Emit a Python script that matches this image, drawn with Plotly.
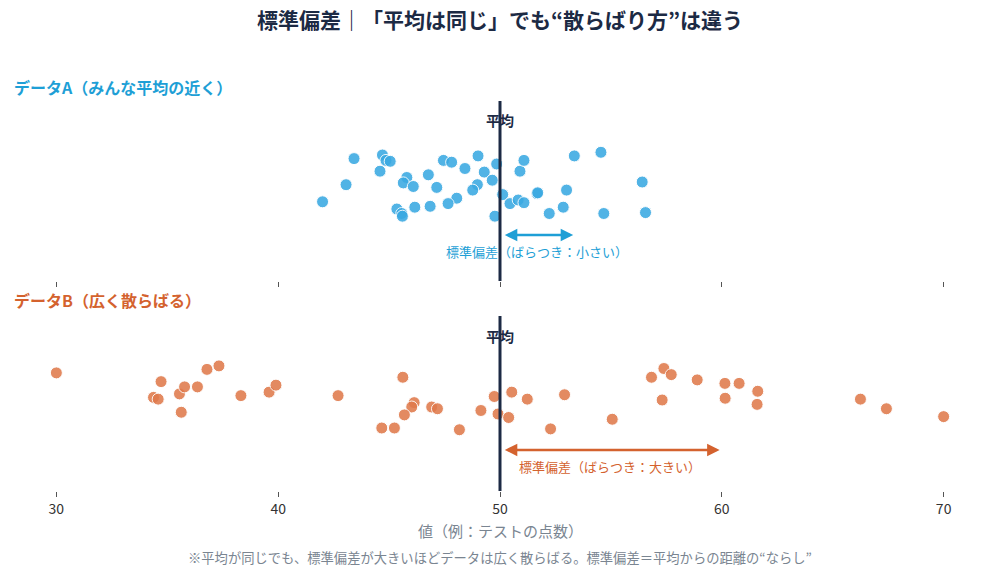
import plotly.graph_objects as go

# ---------------- data ----------------
a_values = [43.42, 44.70, 44.86, 45.05, 44.59, 43.06, 42.00, 45.80, 45.64, 46.09,
            46.77, 47.15, 47.45, 47.82, 48.42, 49.01, 49.29, 49.85, 49.65, 48.98,
            48.77, 48.05, 47.66, 46.85, 46.16, 45.35, 45.57, 45.60, 49.77, 50.12,
            50.45, 50.82, 51.08, 50.90, 51.08, 51.67, 51.70, 52.22, 52.85, 53.00,
            53.35, 54.55, 54.68, 56.41, 56.56]
a_jitter = [0.36, 0.40, 0.34, 0.33, 0.22, 0.07, -0.12, 0.15, 0.09, 0.05,
            0.18, 0.04, 0.34, 0.32, 0.25, 0.39, 0.21, 0.30, 0.12, 0.07,
            0.01, -0.08, -0.14, -0.17, -0.18, -0.20, -0.25, -0.28, -0.28, -0.04,
            -0.14, -0.10, -0.13, 0.22, 0.34, -0.03, -0.02, -0.25, -0.18, 0.01,
            0.39, 0.43, -0.25, 0.10, -0.24]

b_values = [30.00, 34.72, 34.38, 34.59, 35.55, 35.78, 36.36, 36.79, 37.33, 35.63,
            38.32, 39.59, 39.90, 42.70, 45.62, 46.13, 46.02, 45.69, 46.92, 47.18,
            44.67, 45.24, 48.17, 49.14, 49.74, 49.91, 50.39, 50.53, 51.23, 52.28,
            52.91, 55.06, 56.83, 57.39, 57.72, 57.31, 58.89, 60.14, 60.78, 60.15,
            61.62, 61.59, 66.25, 67.42, 70.00]
b_jitter = [0.35, 0.25, 0.07, 0.05, 0.11, 0.19, 0.19, 0.39, 0.43, -0.10,
            0.09, 0.13, 0.21, 0.09, 0.30, 0.01, -0.04, -0.13, -0.04, -0.06,
            -0.28, -0.28, -0.30, -0.08, 0.08, -0.12, -0.16, 0.13, 0.05, -0.29,
            0.10, -0.18, 0.30, 0.40, 0.33, 0.04, 0.27, 0.23, 0.23, 0.06,
            0.14, -0.01, 0.05, -0.06, -0.15]

mean_value = 50
sd_a = 3.3
sd_b = 9.9
tick_values = [30, 40, 50, 60, 70]

title_text = "標準偏差｜「平均は同じ」でも“散らばり方”は違う"
label_a = "データA（みんな平均の近く）"
label_b = "データB（広く散らばる）"
sd_label_a = "標準偏差（ばらつき：小さい）"
sd_label_b = "標準偏差（ばらつき：大きい）"
mean_label = "平均"
x_title = "値（例：テストの点数）"
footnote = "※平均が同じでも、標準偏差が大きいほどデータは広く散らばる。標準偏差＝平均からの距離の“ならし”"

# ---------------- style ----------------
FONT = "Noto Sans CJK JP"
BLUE = "#3AA9E2"
BLUE_TXT = "#1E9FD6"
ORANGE = "#E07A4C"
ORANGE_TXT = "#D4622E"
NAVY = "#1C2A44"
GRAY = "#7A8591"

fig = go.Figure()

fig.add_trace(go.Scatter(
    x=a_values, y=a_jitter, mode="markers", xaxis="x", yaxis="y",
    marker=dict(size=12, color=BLUE, opacity=0.88, line=dict(color="white", width=1)),
    showlegend=False, hoverinfo="x"))
fig.add_trace(go.Scatter(
    x=b_values, y=b_jitter, mode="markers", xaxis="x2", yaxis="y2",
    marker=dict(size=12, color=ORANGE, opacity=0.88, line=dict(color="white", width=1)),
    showlegend=False, hoverinfo="x"))

# mean lines
for xr, yr in (("x", "y"), ("x2", "y2")):
    fig.add_shape(type="line", xref=xr, yref=yr + " domain", x0=mean_value, x1=mean_value,
                  y0=0, y1=1, line=dict(color=NAVY, width=3), layer="above")

annotations = [
    dict(text=f"<b>{title_text}</b>", x=0.5, y=1 - 19 / 575, xref="paper", yref="paper",
         showarrow=False, font=dict(size=21, color=NAVY, family=FONT), xanchor="center", yanchor="middle"),
    dict(text=f"<b>{label_a}</b>", x=0, y=1 - 87 / 575, xref="paper", yref="paper",
         showarrow=False, font=dict(size=16, color=BLUE_TXT, family=FONT), xanchor="left", yanchor="middle"),
    dict(text=f"<b>{label_b}</b>", x=0, y=1 - 300 / 575, xref="paper", yref="paper",
         showarrow=False, font=dict(size=16, color=ORANGE_TXT, family=FONT), xanchor="left", yanchor="middle"),
    dict(text=f"<b>{mean_label}</b>", x=mean_value, y=0.79, xref="x", yref="y",
         showarrow=False, font=dict(size=14, color=NAVY, family=FONT)),
    dict(text=f"<b>{mean_label}</b>", x=mean_value, y=0.77, xref="x2", yref="y2",
         showarrow=False, font=dict(size=14, color=NAVY, family=FONT)),
    # SD arrows
    dict(x=mean_value + sd_a, y=-0.49, ax=mean_value + 0.15, ay=-0.49, xref="x", yref="y",
         axref="x", ayref="y", showarrow=True, arrowhead=2, arrowside="end+start",
         arrowsize=1, arrowwidth=2.5, arrowcolor=BLUE_TXT, text=""),
    dict(x=mean_value + sd_b, y=-0.53, ax=mean_value + 0.15, ay=-0.53, xref="x2", yref="y2",
         axref="x2", ayref="y2", showarrow=True, arrowhead=2, arrowside="end+start",
         arrowsize=1, arrowwidth=2.5, arrowcolor=ORANGE_TXT, text=""),
    dict(text=sd_label_a, x=mean_value + sd_a / 2, y=-0.67, xref="x", yref="y",
         showarrow=False, font=dict(size=13, color=BLUE_TXT, family=FONT)),
    dict(text=sd_label_b, x=mean_value + sd_b / 2, y=-0.72, xref="x2", yref="y2",
         showarrow=False, font=dict(size=13, color=ORANGE_TXT, family=FONT)),
    dict(text=x_title, x=0.5, y=1 - 530 / 575, xref="paper", yref="paper",
         showarrow=False, font=dict(size=15, color=GRAY, family=FONT), xanchor="center", yanchor="middle"),
    dict(text=footnote, x=0.5, y=1 - 557 / 575, xref="paper", yref="paper",
         showarrow=False, font=dict(size=13.3, color=GRAY, family=FONT), xanchor="center", yanchor="middle"),
]

xcommon = dict(range=[28, 72], tickvals=tick_values, showgrid=False, zeroline=False,
               showline=False, ticks="outside", ticklen=5, tickwidth=1, tickcolor="#555555",
               domain=[0, 1])
ycommon = dict(range=[-1, 1], showgrid=False, zeroline=False, showline=False,
               showticklabels=False, ticks="", fixedrange=True)

fig.update_layout(
    width=1000, height=575,
    margin=dict(l=12, r=12, t=0, b=0),
    paper_bgcolor="white", plot_bgcolor="white",
    font=dict(family=FONT, color="#333333"),
    xaxis=dict(**xcommon, anchor="y", showticklabels=False),
    yaxis=dict(**ycommon, domain=[1 - 281 / 575, 1 - 101 / 575], anchor="x"),
    xaxis2=dict(**xcommon, anchor="y2", showticklabels=True,
                tickfont=dict(size=14, color="#333333", family=FONT)),
    yaxis2=dict(**ycommon, domain=[1 - 491 / 575, 1 - 316 / 575], anchor="x2"),
    annotations=annotations,
)

fig.write_html("out.html")
